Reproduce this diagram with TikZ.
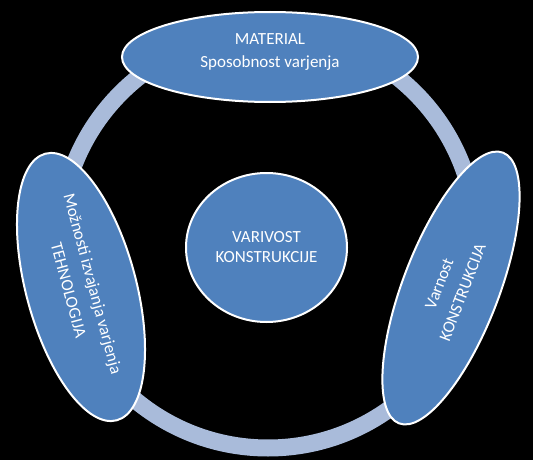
\documentclass[tikz,border=0pt]{standalone}
\usepackage{fontspec}
\setmainfont{Carlito}
\usetikzlibrary{shapes.geometric}
\definecolor{accentblue}{HTML}{4F81BD}
\definecolor{ringblue}{HTML}{A9BBDA}
\tikzstyle{blob} = [
    ellipse,
    draw=white,
    line width=2pt,
    fill=accentblue,
    text=white,
    align=center,
    inner sep=0pt,
    font=\fontsize{17}{20}\selectfont
]
\tikzstyle{ring} = [
    draw=ringblue,
    line width=17pt
]
\begin{document}
\begin{tikzpicture}[x=1pt, y=-1pt]
    % background
    \fill[black] (0,0) rectangle (533,460);

    % Ring behind the shapes
    \coordinate (hub) at (268,240);
    \draw[ring] (hub) circle [radius=208pt];

    % MATERIAL
    \node[blob, minimum width=296pt, minimum height=90pt] (material) at (270,57) {
        MATERIAL\\[3pt]
        Sposobnost varjenja\rule[-12pt]{0pt}{12pt}
    };

    % VARIVOST KONSTRUKCIJE
    \node[blob, minimum width=161pt, minimum height=149pt] (varivost) at (266.5,247.5) {
        VARIVOST\\
        KONSTRUKCIJE
    };

    % TEHNOLOGIJA
    \node[blob, minimum width=276pt, minimum height=110pt, rotate=-75] (tehnologija) at (81,287) {
        Možnosti izvajanja varjenja\\[5pt]
        TEHNOLOGIJA
    };

    % KONSTRUKCIJA
    \node[blob, minimum width=290pt, minimum height=96pt, rotate=69] (konstrukcija) at (451,288) {
        Varnost\\[5pt]
        KONSTRUKCIJA
    };
\end{tikzpicture}
\end{document}
